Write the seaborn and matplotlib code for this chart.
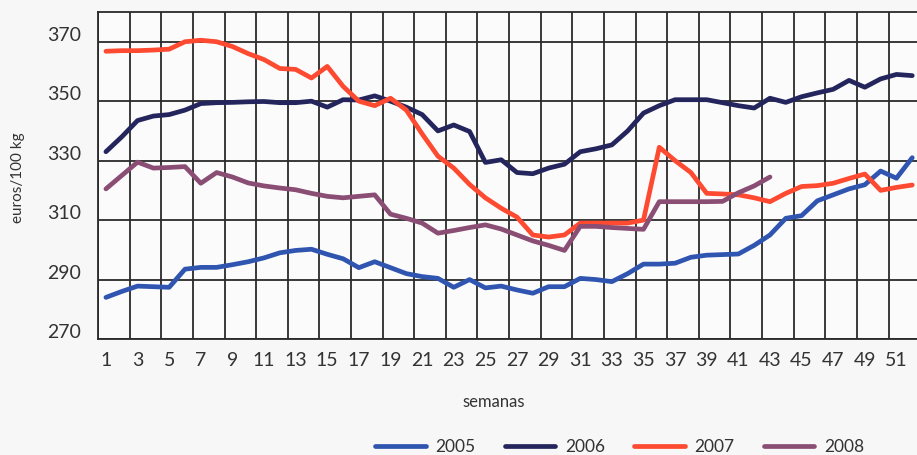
import pandas as pd
import matplotlib
matplotlib.use("Agg")
import matplotlib.pyplot as plt
import matplotlib.transforms as mtransforms
import numpy as np
import seaborn as sns

weeks = list(range(1, 53))

price_2005 = [284, 286, 287.8, 287.6, 287.4, 293.5, 294.1, 294.1, 295, 296,
              297.3, 299, 299.8, 300.2, 298.5, 297, 294, 296, 294, 292,
              291, 290.4, 287.4, 290, 287.2, 287.8, 286.5, 285.4, 287.6, 287.6,
              290.4, 290, 289.3, 292, 295.2, 295.2, 295.5, 297.5, 298.2, 298.4,
              298.6, 301.5, 305, 310.6, 311.5, 316.5, 318.5, 320.5, 321.9, 326.5,
              324.1, 331]
price_2006 = [333, 338, 343.5, 345, 345.5, 347, 349.2, 349.5, 349.6, 349.8,
              349.9, 349.5, 349.5, 350, 348, 350.5, 350.4, 351.8, 350, 348,
              345.5, 340, 342, 339.8, 329.4, 330.3, 326, 325.6, 327.5, 328.8,
              333, 334, 335.3, 340, 346, 348.5, 350.5, 350.5, 350.5, 349.5,
              348.5, 347.7, 351, 349.6, 351.5, 352.8, 354, 357, 354.7, 357.5,
              359, 358.6]
price_2007 = [366.8, 367, 367, 367.2, 367.5, 370, 370.5, 370, 368.4, 366,
              364, 361, 360.7, 357.8, 361.7, 355, 350, 348.5, 351, 347,
              339, 331.5, 327.5, 322, 317.5, 314, 311, 305, 304.3, 305,
              309, 309, 309, 309, 310, 334.5, 330, 326, 319, 318.8,
              318.5, 317.5, 316.2, 319, 321.3, 321.6, 322.4, 324, 325.5, 320,
              321, 321.8]
price_2008 = [320.5, 325, 329.5, 327.5, 327.7, 328, 322.4, 326, 324.5, 322.5,
              321.5, 320.8, 320.2, 319, 318, 317.5, 318, 318.5, 312, 310.6,
              309, 305.6, 306.5, 307.5, 308.4, 307, 305, 303, 301.5, 299.8,
              307.9, 307.9, 307.5, 307.2, 306.9, 316.2, 316.2, 316.2, 316.2, 316.3,
              319.2, 321.5, 324.5]

years = ["2005", "2006", "2007", "2008"]
colors = ["#2f55b0", "#25255e", "#fd4a30", "#8a4e74"]
y_ticks = [270, 290, 310, 330, 350, 370]
x_ticks = list(range(1, 52, 2))

frames = []
for year, prices in zip(years, [price_2005, price_2006, price_2007, price_2008]):
    frames.append(pd.DataFrame({"semana": weeks[:len(prices)],
                                "precio": prices, "año": year}))
df = pd.concat(frames, ignore_index=True)

sns.set_style("white")
plt.rcParams["font.family"] = ["Lato", "DejaVu Sans"]

fig = plt.figure(figsize=(9.17, 4.55), dpi=100, facecolor="#f7f7f7")
ax = fig.add_axes([0.1069, 0.2549, 0.8931, 0.7187])
ax.set_facecolor("#fbfbfb")

sns.lineplot(data=df, x="semana", y="precio", hue="año",
             palette=dict(zip(years, colors)), linewidth=3.4, ax=ax)

ax.set_xlim(0.5, 52.3)
ax.set_ylim(270, 380)
ax.set_yticks(y_ticks)
ax.set_xticks(x_ticks)
ax.set_xticklabels([str(t) for t in x_ticks])
ax.set_xticks(np.arange(0.5, 52.3, 2), minor=True)
ax.grid(False)
ax.grid(axis="x", which="minor", color="#2a2a2a", linewidth=1.3)
ax.grid(axis="y", which="major", color="#2a2a2a", linewidth=1.3)
for ln in ax.get_lines():
    ln.set_zorder(3)
ax.tick_params(axis="both", which="both", length=0)
ax.tick_params(axis="y", labelsize=14, pad=12, colors="#333333")
ax.tick_params(axis="x", labelsize=14, pad=9, colors="#333333")

offset = mtransforms.ScaledTranslation(0, 0.08, fig.dpi_scale_trans)
for lab in ax.get_yticklabels():
    lab.set_transform(lab.get_transform() + offset)

for side in ["left", "bottom", "top"]:
    ax.spines[side].set_color("#2a2a2a")
    ax.spines[side].set_linewidth(1.3)
ax.spines["right"].set_visible(False)

ax.set_xlabel("")
ax.set_ylabel("")
fig.text(0.0196, 0.609, "euros/100 kg", rotation=90, ha="center", va="center",
         fontsize=11, color="#333333")
fig.text(0.538, 0.117, "semanas", ha="center", va="center",
         fontsize=12, color="#333333")

sns.move_legend(ax, loc="center", bbox_to_anchor=(0.637, -0.33), ncol=4,
                frameon=False, title=None, fontsize=12.5, handlelength=2.9,
                handletextpad=0.55, columnspacing=1.7)
for txt in ax.get_legend().get_texts():
    txt.set_color("#333333")
for h in ax.get_legend().get_lines():
    h.set_linewidth(3.4)

fig.savefig("out.png", dpi=100, facecolor=fig.get_facecolor())
